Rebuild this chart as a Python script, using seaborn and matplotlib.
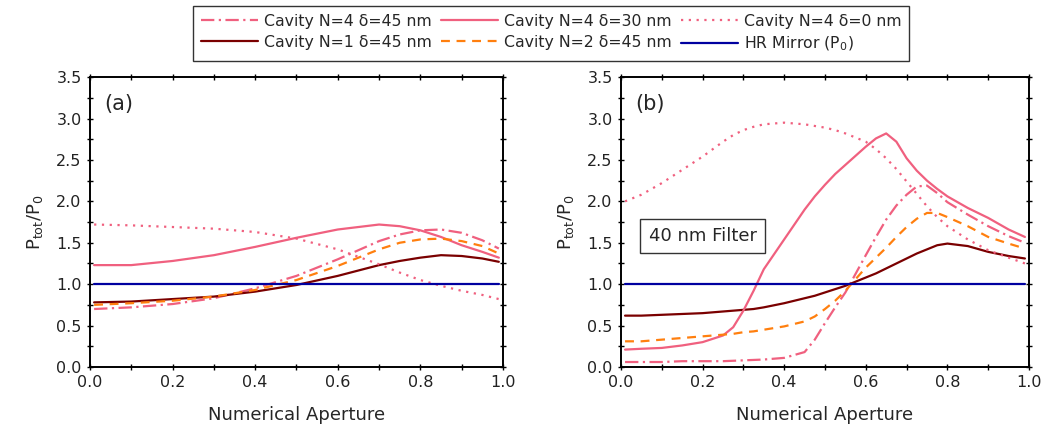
import matplotlib
matplotlib.use('Agg')
import matplotlib.pyplot as plt
import seaborn as sns
import pandas as pd

sns.set_style('ticks')
plt.rcParams['font.family'] = ['DejaVu Sans']

# === datos ===
na_a = [0.01, 0.1, 0.2, 0.3, 0.4, 0.5, 0.6, 0.7, 0.75, 0.8, 0.85, 0.9, 0.95, 0.99]
n4d45_a = [0.70, 0.72, 0.76, 0.83, 0.95, 1.10, 1.30, 1.52, 1.60, 1.65, 1.66, 1.62, 1.53, 1.43]
n2d45_a = [0.75, 0.77, 0.80, 0.85, 0.93, 1.05, 1.22, 1.42, 1.50, 1.54, 1.55, 1.52, 1.46, 1.37]
n1d45_a = [0.78, 0.79, 0.82, 0.85, 0.91, 0.99, 1.10, 1.23, 1.28, 1.32, 1.35, 1.34, 1.31, 1.27]
n4d30_a = [1.23, 1.23, 1.28, 1.35, 1.45, 1.56, 1.66, 1.72, 1.70, 1.65, 1.57, 1.47, 1.39, 1.32]
n4d0_a = [1.72, 1.71, 1.69, 1.67, 1.63, 1.55, 1.42, 1.24, 1.14, 1.05, 0.98, 0.92, 0.87, 0.82]

na_b = [0.01, 0.05, 0.1, 0.15, 0.2, 0.25, 0.275, 0.3, 0.325, 0.35, 0.4, 0.45, 0.475,
        0.5, 0.525, 0.55, 0.6, 0.625, 0.65, 0.675, 0.7, 0.725, 0.75, 0.775, 0.8,
        0.85, 0.9, 0.95, 0.99]
n4d0_b = [2.00, 2.08, 2.22, 2.38, 2.54, 2.72, 2.80, 2.86, 2.90, 2.93, 2.95, 2.93, 2.91,
          2.89, 2.86, 2.82, 2.72, 2.63, 2.52, 2.39, 2.24, 2.09, 1.94, 1.81, 1.70,
          1.54, 1.41, 1.32, 1.25]
n4d30_b = [0.21, 0.22, 0.23, 0.26, 0.30, 0.38, 0.48, 0.68, 0.92, 1.18, 1.54, 1.90, 2.06,
           2.20, 2.33, 2.44, 2.66, 2.76, 2.82, 2.72, 2.52, 2.37, 2.25, 2.15, 2.06,
           1.92, 1.80, 1.66, 1.57]
n4d45_b = [0.06, 0.06, 0.06, 0.07, 0.07, 0.07, 0.075, 0.08, 0.085, 0.09, 0.11, 0.18, 0.33,
           0.53, 0.72, 0.90, 1.35, 1.57, 1.78, 1.95, 2.08, 2.18, 2.19, 2.10, 1.99,
           1.84, 1.70, 1.58, 1.50]
n2d45_b = [0.31, 0.31, 0.33, 0.35, 0.37, 0.39, 0.40, 0.42, 0.43, 0.45, 0.49, 0.55, 0.61,
           0.70, 0.80, 0.92, 1.20, 1.32, 1.44, 1.57, 1.69, 1.79, 1.86, 1.86, 1.81,
           1.70, 1.57, 1.49, 1.43]
n1d45_b = [0.62, 0.62, 0.63, 0.64, 0.65, 0.67, 0.68, 0.69, 0.70, 0.72, 0.77, 0.83, 0.86,
           0.90, 0.94, 0.98, 1.08, 1.13, 1.19, 1.25, 1.31, 1.37, 1.42, 1.47, 1.49,
           1.46, 1.39, 1.34, 1.31]

hr_x = [0.01, 0.99]
hr_y = [1.0, 1.0]

rosa = '#F0607F'
granate = '#7A0000'
naranja = '#FF7F0E'
azul = '#0000A0'

series = [
    ('Cavity N=4 δ=45 nm', 'n4d45', rosa, (0, (6, 2, 1, 2))),
    ('Cavity N=1 δ=45 nm', 'n1d45', granate, '-'),
    ('Cavity N=4 δ=30 nm', 'n4d30', rosa, '-'),
    ('Cavity N=2 δ=45 nm', 'n2d45', naranja, (0, (4, 3))),
    ('Cavity N=4 δ=0 nm', 'n4d0', rosa, (0, (1, 2.5))),
]

datos = {
    'a': pd.DataFrame({'na': na_a, 'n4d45': n4d45_a, 'n1d45': n1d45_a,
                       'n4d30': n4d30_a, 'n2d45': n2d45_a, 'n4d0': n4d0_a}),
    'b': pd.DataFrame({'na': na_b, 'n4d45': n4d45_b, 'n1d45': n1d45_b,
                       'n4d30': n4d30_b, 'n2d45': n2d45_b, 'n4d0': n4d0_b}),
}

fig = plt.figure(figsize=(10.5, 4.32), dpi=100)
ax_a = fig.add_axes([0.0857, 0.1505, 0.3933, 0.671])
ax_b = fig.add_axes([0.5914, 0.1505, 0.3886, 0.671])

for ax, key in [(ax_a, 'a'), (ax_b, 'b')]:
    df = datos[key]
    for label, col, color, ls in series:
        sns.lineplot(x=df['na'], y=df[col], color=color, linestyle=ls,
                     linewidth=1.6, label=label, ax=ax, legend=False)
    sns.lineplot(x=hr_x, y=hr_y, color=azul, linewidth=1.6,
                 label=r'HR Mirror (P$_0$)', ax=ax, legend=False)

    ax.set_xlim(0, 1.0)
    ax.set_ylim(0, 3.5)
    ax.set_xticks([0, 0.2, 0.4, 0.6, 0.8, 1.0])
    ax.set_xticks([0.1, 0.3, 0.5, 0.7, 0.9], minor=True)
    ax.set_yticks([0, 0.5, 1.0, 1.5, 2.0, 2.5, 3.0, 3.5])
    ax.set_yticks([0.25, 0.75, 1.25, 1.75, 2.25, 2.75, 3.25], minor=True)
    ax.xaxis.set_major_formatter(matplotlib.ticker.FormatStrFormatter('%.1f'))
    ax.yaxis.set_major_formatter(matplotlib.ticker.FormatStrFormatter('%.1f'))
    ax.tick_params(which='both', direction='inout', length=5, width=1,
                   top=True, right=True, labelsize=11.5, colors='black',
                   labelcolor='#222222')
    for s in ax.spines.values():
        s.set_visible(True)
        s.set_linewidth(1.4)
        s.set_color('black')
    ax.set_xlabel('Numerical Aperture', fontsize=13, labelpad=11)
    ax.set_ylabel(r'P$_{\mathrm{tot}}$/P$_0$', fontsize=13, labelpad=8)

ax_a.text(0.035, 3.1, '(a)', fontsize=15)
ax_b.text(0.035, 3.1, '(b)', fontsize=15)
ax_b.text(0.20, 1.58, '40 nm Filter', fontsize=13, ha='center', va='center',
          bbox=dict(boxstyle='square,pad=0.45', fc='white', ec='#333333', lw=1))

handles, labels = ax_a.get_legend_handles_labels()
fig.legend(handles, labels, ncol=3, loc='upper center',
           bbox_to_anchor=(0.525, 1.005), fontsize=11.3, frameon=True,
           fancybox=False, edgecolor='black', handlelength=3.6,
           columnspacing=0.6, handletextpad=0.4, borderpad=0.5,
           labelspacing=0.4)

fig.savefig('out.png', dpi=100)
